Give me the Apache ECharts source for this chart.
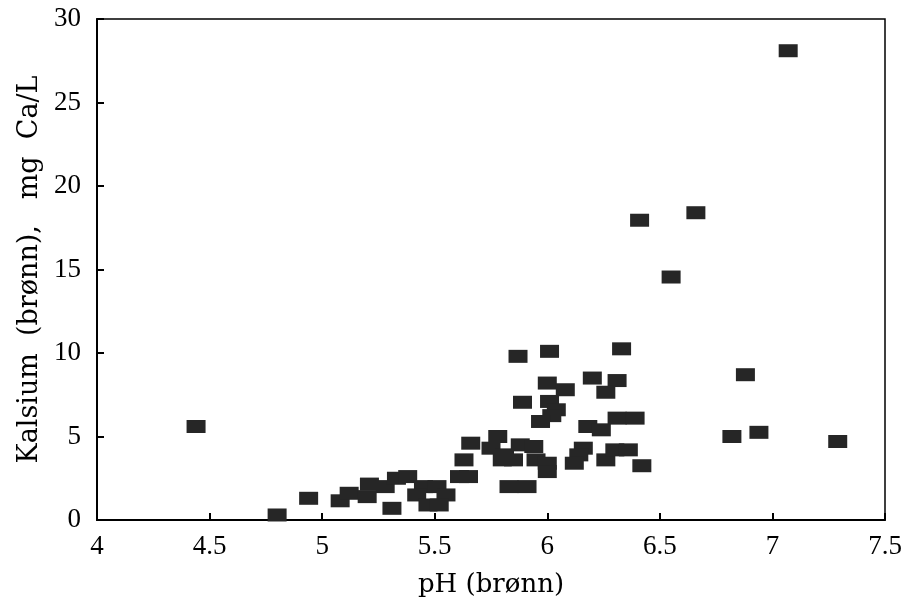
<!DOCTYPE html>
<html>
<head>
<meta charset="utf-8">
<script src="https://cdn.jsdelivr.net/npm/echarts@6/dist/echarts.min.js"></script>
<style>
  html, body { margin: 0; padding: 0; background: #fff; }
  #chart { width: 908px; height: 608px; }
</style>
</head>
<body>
<div id="chart"></div>
<script>
// pH (brønn) readings
let ph = [4.44, 4.80, 4.94, 5.08, 5.12, 5.20, 5.21, 5.28, 5.33, 5.38, 5.31,
    5.45, 5.51, 5.42, 5.55, 5.47, 5.52,
    5.66, 5.63, 5.61, 5.65,
    5.75, 5.78, 5.80, 5.85, 5.81, 5.88, 5.94, 5.95, 6.00, 6.00, 5.83, 5.91,
    5.87, 6.01, 6.33, 6.00, 6.08, 6.20, 6.31, 6.26, 5.89, 6.01, 6.04, 6.02,
    5.97, 6.18, 6.24, 6.31, 6.39, 6.16, 6.14, 6.12, 6.26, 6.30, 6.36, 6.42,
    6.41, 6.66, 6.55, 7.07, 6.88, 6.82, 6.94, 7.29];
// Kalsium (brønn), mg Ca/L
let ca = [5.6, 0.3, 1.3, 1.15, 1.6, 1.4, 2.15, 2.0, 2.5, 2.6, 0.7,
    2.0, 2.0, 1.5, 1.5, 0.9, 0.9,
    4.6, 3.6, 2.6, 2.6,
    4.3, 5.0, 3.6, 3.6, 3.9, 4.5, 4.4, 3.6, 3.4, 2.9, 2.0, 2.0,
    9.8, 10.1, 10.25, 8.2, 7.8, 8.5, 8.35, 7.65, 7.05, 7.1, 6.6, 6.25,
    5.9, 5.6, 5.4, 6.1, 6.1, 4.3, 3.9, 3.4, 3.6, 4.2, 4.2, 3.25,
    17.95, 18.4, 14.55, 28.1, 8.7, 5.0, 5.25, 4.7];
let xTicks = ['4', '4.5', '5', '5.5', '6', '6.5', '7', '7.5'];

let points = [];
for (let i = 0; i < ph.length; i++) {
    points.push([ph[i], ca[i]]);
}

let tickFont = 'Liberation Serif';
let nameFont = 'DejaVu Serif';
let MyChart = echarts.init(document.querySelector('#chart'));
let option = {
    animation: false,
    backgroundColor: '#fff',
    grid: {
        left: 97, right: 23, top: 19, bottom: 88,
        show: true, borderColor: '#000', borderWidth: 1.5
    },
    xAxis: {
        type: 'value',
        min: 4, max: 7.5, interval: 0.5,
        name: 'pH (brønn)',
        nameLocation: 'middle',
        nameGap: 52,
        nameTextStyle: { color: '#000', fontFamily: nameFont, fontSize: 26 },
        axisLine: { lineStyle: { color: '#000', width: 2 } },
        axisTick: { inside: true, length: 7, lineStyle: { color: '#000', width: 2 } },
        axisLabel: {
            color: '#000', fontFamily: tickFont, fontSize: 27, margin: 13,
            formatter: function (v) {
                return xTicks[Math.round((v - 4) / 0.5)];
            }
        },
        splitLine: { show: false }
    },
    yAxis: {
        type: 'value',
        min: 0, max: 30, interval: 5,
        name: 'Kalsium  (brønn),   mg  Ca/L',
        nameLocation: 'middle',
        nameGap: 47,
        nameTextStyle: { color: '#000', fontFamily: nameFont, fontSize: 27 },
        axisLine: { lineStyle: { color: '#000', width: 2 } },
        axisTick: { inside: true, length: 7, lineStyle: { color: '#000', width: 2 } },
        axisLabel: { color: '#000', fontFamily: tickFont, fontSize: 27, margin: 16 },
        splitLine: { show: false }
    },
    series: [{
        type: 'scatter',
        symbol: 'rect',
        symbolSize: [19, 13],
        itemStyle: { color: '#262626', opacity: 1 },
        data: points
    }]
};
MyChart.setOption(option);
</script>
</body>
</html>
